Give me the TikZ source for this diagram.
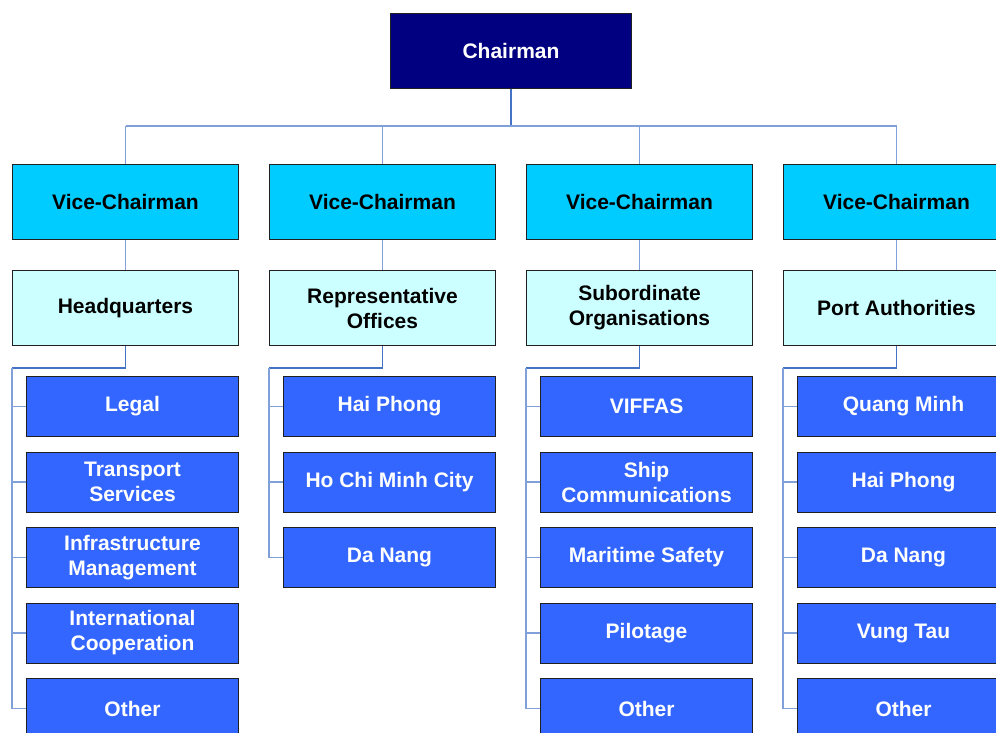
\documentclass[tikz,border=0pt]{standalone}
\usepackage{fontspec}
\setmainfont{Liberation Sans}
\definecolor{chairfill}{HTML}{000080}
\definecolor{vicefill}{HTML}{00CCFF}
\definecolor{unitfill}{HTML}{CCFFFF}
\definecolor{subfill}{HTML}{3366FF}
\definecolor{conndark}{HTML}{4472C4}
\definecolor{connlight}{HTML}{7FA0D8}
\definecolor{edge}{HTML}{202020}
\begin{document}
\begin{tikzpicture}[x=1pt,y=-1pt,
  base/.style={draw=edge, line width=1pt, inner sep=0pt, anchor=north west, align=center,
    font=\bfseries\fontsize{21}{25}\selectfont},
  chairbox/.style={base, fill=chairfill, text=white, minimum width=241pt, minimum height=75pt},
  vicebox/.style={base, fill=vicefill, text=black, minimum width=226pt, minimum height=75pt},
  unitbox/.style={base, fill=unitfill, text=black, minimum width=226pt, minimum height=75pt},
  subbox/.style={base, fill=subfill, text=white, minimum width=212pt, minimum height=60pt},
  conn/.style={draw=conndark, line width=1.5pt},
  connl/.style={draw=connlight, line width=1.1pt}]
\useasboundingbox (0,0) rectangle (996,733);
\clip (0,0) rectangle (996,733);

% Chairman
\node[chairbox] (ch) at (390,13) {Chairman};

% Vice-Chairmen and units
\node[vicebox] (v1) at (12,164) {Vice-Chairman};
\node[vicebox] (v2) at (269,164) {Vice-Chairman};
\node[vicebox] (v3) at (526,164) {Vice-Chairman};
\node[vicebox] (v4) at (783,164) {Vice-Chairman};

\node[unitbox] (s1) at (12,270) {Headquarters};
\node[unitbox] (s2) at (269,270) {Representative\\Offices};
\node[unitbox] (s3) at (526,270) {Subordinate\\Organisations};
\node[unitbox] (s4) at (783,270) {Port Authorities};

% Column 1
\node[subbox] (c11) at (26,376) {Legal};
\node[subbox] (c12) at (26,451.5) {Transport\\Services};
\node[subbox] (c13) at (26,527) {Infrastructure\\Management};
\node[subbox] (c14) at (26,602.5) {International\\Cooperation};
\node[subbox] (c15) at (26,678) {Other};
% Column 2
\node[subbox] (c21) at (283,376) {Hai Phong};
\node[subbox] (c22) at (283,451.5) {Ho Chi Minh City};
\node[subbox] (c23) at (283,527) {Da Nang};
% Column 3
\node[subbox] (c31) at (540,376) {VIFFAS};
\node[subbox] (c32) at (540,451.5) {Ship\\Communications};
\node[subbox] (c33) at (540,527) {Maritime Safety};
\node[subbox] (c34) at (540,602.5) {Pilotage};
\node[subbox] (c35) at (540,678) {Other};
% Column 4
\node[subbox] (c41) at (797,376) {Quang Minh};
\node[subbox] (c42) at (797,451.5) {Hai Phong};
\node[subbox] (c43) at (797,527) {Da Nang};
\node[subbox] (c44) at (797,602.5) {Vung Tau};
\node[subbox] (c45) at (797,678) {Other};

% Bus
\coordinate (b1) at (v1.north |- 0,126);
\coordinate (b4) at (v4.north |- 0,126);
\draw[conn] (ch.south) -- (ch.south |- b1);
\draw[connl] (b1) -- (b4);
\foreach \v in {v1,v2,v3,v4} {
  \draw[connl] (\v.north |- b1) -- (\v.north);
}
\foreach \v/\s in {v1/s1,v2/s2,v3/s3,v4/s4} {
  \draw[connl] (\v.south) -- (\s.north);
}

% Trunks
\coordinate (t1) at (12,368);
\coordinate (t2) at (269,368);
\coordinate (t3) at (526,368);
\coordinate (t4) at (783,368);
\draw[conn] (s1.south) |- (t1);
\draw[conn] (s2.south) |- (t2);
\draw[conn] (s3.south) |- (t3);
\draw[conn] (s4.south) |- (t4);
\draw[connl] (t1) -- (t1 |- c15.west);
\draw[connl] (t2) -- (t2 |- c23.west);
\draw[connl] (t3) -- (t3 |- c35.west);
\draw[connl] (t4) -- (t4 |- c45.west);
\foreach \n in {c11,c12,c13,c14,c15} \draw[connl] (t1 |- \n.west) -- (\n.west);
\foreach \n in {c21,c22,c23} \draw[connl] (t2 |- \n.west) -- (\n.west);
\foreach \n in {c31,c32,c33,c34,c35} \draw[connl] (t3 |- \n.west) -- (\n.west);
\foreach \n in {c41,c42,c43,c44,c45} \draw[connl] (t4 |- \n.west) -- (\n.west);
\end{tikzpicture}
\end{document}
